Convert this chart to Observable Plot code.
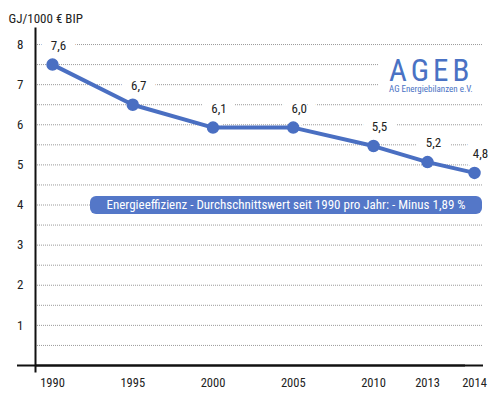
<!DOCTYPE html>
<html>
<head>
<meta charset="utf-8">
<script src="https://cdn.jsdelivr.net/npm/d3@7"></script>
<script src="https://cdn.jsdelivr.net/npm/@observablehq/plot@0.6"></script>
<style>
  body { margin: 0; background: #fff; }
  #wrap { position: relative; width: 495px; height: 398px; overflow: hidden;
          font-family: "Roboto Condensed", "DejaVu Sans Condensed", sans-serif; }
  #box { position: absolute; left: 90px; top: 196px; width: 392px; height: 18px; border-radius: 6px;
         background: #5477c8; color: #fff; font-size: 13px; line-height: 18px; text-align: center; white-space: nowrap; }
  #logo { position: absolute; left: 379px; top: 54px; width: 116px; height: 44px; background: #fff; color: #4a72c4; }
  #logo .big { position: absolute; left: 10px; top: 4px; font-size: 31px; line-height: 26px; letter-spacing: 4px; font-weight: 400; }
  #logo .small { position: absolute; left: 10px; top: 30px; font-size: 9px; line-height: 11px; white-space: nowrap; }
</style>
</head>
<body>
<div id="wrap">
  <div id="chart"></div>
  <div id="logo"><div class="big">AGEB</div><div class="small">AG Energiebilanzen e.V.</div></div>
  <div id="box"></div>
</div>
<script>
const years = [1990, 1995, 2000, 2005, 2010, 2013, 2014];
const values = [7.5, 6.5, 5.93, 5.93, 5.47, 5.07, 4.8];
const valueLabels = ["7,6", "6,7", "6,1", "6,0", "5,5", "5,2", "4,8"];
const yTicks = [1, 2, 3, 4, 5, 6, 7, 8];
const gridValues = [0.5, 1, 1.5, 2, 2.5, 3, 3.5, 4, 4.5, 5, 5.5, 6, 6.5, 7, 7.5, 8];
const yTitle = "GJ/1000 € BIP";
const note = "Energieeffizienz - Durchschnittswert seit 1990 pro Jahr: - Minus 1,89 %";

const data = years.map((year, i) => ({year, value: values[i], label: valueLabels[i]}));
document.getElementById("box").textContent = note;

const font = '"Roboto Condensed", "DejaVu Sans Condensed", sans-serif';
const blue = "#4a6fc2";

const chart = Plot.plot({
  width: 495,
  height: 398,
  marginLeft: 35,
  marginRight: 12,
  marginTop: 28,
  marginBottom: 27,
  style: {fontFamily: font, fontSize: "13px", color: "#222", background: "#fff"},
  x: {type: "linear", domain: [1990, 2010, 2013, 2014], range: [52, 373, 427, 474]},
  y: {domain: [-0.15, 8.4]},
  marks: [
    Plot.ruleY(gridValues, {stroke: "#9a9a9a", strokeWidth: 1, strokeDasharray: "1,1"}),
    Plot.text(data, {x: "year", y: "value", text: "label", dy: -19, dx: 6,
      fill: "#222", stroke: "white", strokeWidth: 20, strokeLinejoin: "round", paintOrder: "stroke", fontSize: 13}),
    Plot.ruleY([0], {stroke: "#111", strokeWidth: 2}),
    Plot.ruleY([0], {stroke: "#111", strokeWidth: 2, dx: -18}),
    Plot.frame({anchor: "left", stroke: "#111", strokeWidth: 2}),
    Plot.line(data, {x: "year", y: "value", stroke: blue, strokeWidth: 4}),
    Plot.dot(data, {x: "year", y: "value", r: 5.5, fill: blue, stroke: blue}),
    Plot.axisY(yTicks, {tickSize: 0, tickPadding: 12, fontSize: 13, label: null, tickFormat: d => String(d)}),
    Plot.axisX(years, {tickSize: 0, tickPadding: 7, fontSize: 12.5, label: null, tickFormat: d => String(d)}),
    Plot.text([yTitle], {frameAnchor: "top-left", dx: -27, dy: -15, textAnchor: "start", fontSize: 13, fill: "#222"})
  ]
});
document.getElementById("chart").appendChild(chart);
</script>
</body>
</html>
